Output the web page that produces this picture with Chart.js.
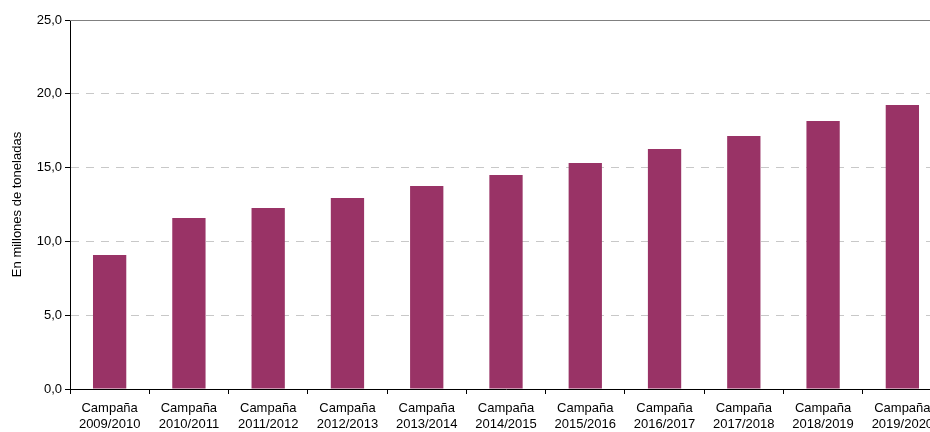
<!DOCTYPE html>
<html lang="es">

<head>
    <meta charset="utf-8">
    <title>Producción por campaña</title>
    <script src="https://cdn.jsdelivr.net/npm/chart.js"></script>
    <style>
        html, body { margin: 0; padding: 0; overflow: hidden; background: #fff; }
        #wrap { width: 942px; height: 432px; }
    </style>
</head>

<body>
    <div id="wrap"><canvas id="campanas"></canvas></div>

    <script>
        // campañas y valores (millones de toneladas)
        const campanas = ['2009/2010', '2010/2011', '2011/2012', '2012/2013', '2013/2014', '2014/2015',
            '2015/2016', '2016/2017', '2017/2018', '2018/2019', '2019/2020'];
        const toneladas = [9.08, 11.59, 12.26, 12.94, 13.75, 14.5, 15.31, 16.26, 17.14, 18.16, 19.24];
        const yTicks = [0, 5, 10, 15, 20, 25];

        const labels = campanas.map(c => ['Campaña', c]);

        // línea superior del área del gráfico (sólida)
        const topLine = {
            id: 'topLine',
            afterDraw(chart) {
                const { ctx, chartArea } = chart;
                ctx.save();
                ctx.strokeStyle = '#808080';
                ctx.lineWidth = 1;
                ctx.beginPath();
                ctx.moveTo(chartArea.left, chartArea.top + 0.5);
                ctx.lineTo(chartArea.right, chartArea.top + 0.5);
                ctx.stroke();
                ctx.restore();
            }
        };

        new Chart(document.getElementById('campanas'), {
            type: 'bar',
            data: {
                labels: labels,
                datasets: [{
                    data: toneladas,
                    backgroundColor: '#993366',
                    barPercentage: 0.42,
                    categoryPercentage: 1
                }]
            },
            options: {
                responsive: true,
                maintainAspectRatio: false,
                animation: false,
                layout: { padding: { top: 20, right: 0, left: 0, bottom: 0 } },
                plugins: { legend: { display: false }, tooltip: { enabled: false } },
                scales: {
                    x: {
                        grid: {
                            offset: true,
                            drawOnChartArea: false,
                            drawTicks: true,
                            tickLength: 5,
                            color: '#000'
                        },
                        border: { color: '#000', width: 1 },
                        ticks: {
                            color: '#000',
                            maxRotation: 0,
                            autoSkip: false,
                            padding: 6,
                            font: { family: 'Liberation Sans, Arial', size: 13, lineHeight: 1.25 }
                        },
                        afterFit(scale) { scale.height = 43; }
                    },
                    y: {
                        min: 0,
                        max: 25,
                        afterBuildTicks(scale) { scale.ticks = yTicks.map(v => ({ value: v })); },
                        grid: {
                            color: '#c8c8c8',
                            tickColor: '#000',
                            tickLength: 5,
                            drawTicks: true
                        },
                        border: { color: '#000', width: 1, dash: [8, 7] },
                        ticks: {
                            color: '#000',
                            padding: 3,
                            font: { family: 'Liberation Sans, Arial', size: 13 },
                            callback: v => v.toFixed(1).replace('.', ',')
                        },
                        title: {
                            display: true,
                            text: 'En millones de toneladas',
                            color: '#000',
                            padding: { top: 10, bottom: 4 },
                            font: { family: 'Liberation Sans, Arial', size: 13 }
                        },
                        afterFit(scale) { scale.width = 70; }
                    }
                }
            },
            plugins: [topLine]
        });
    </script>
</body>

</html>
